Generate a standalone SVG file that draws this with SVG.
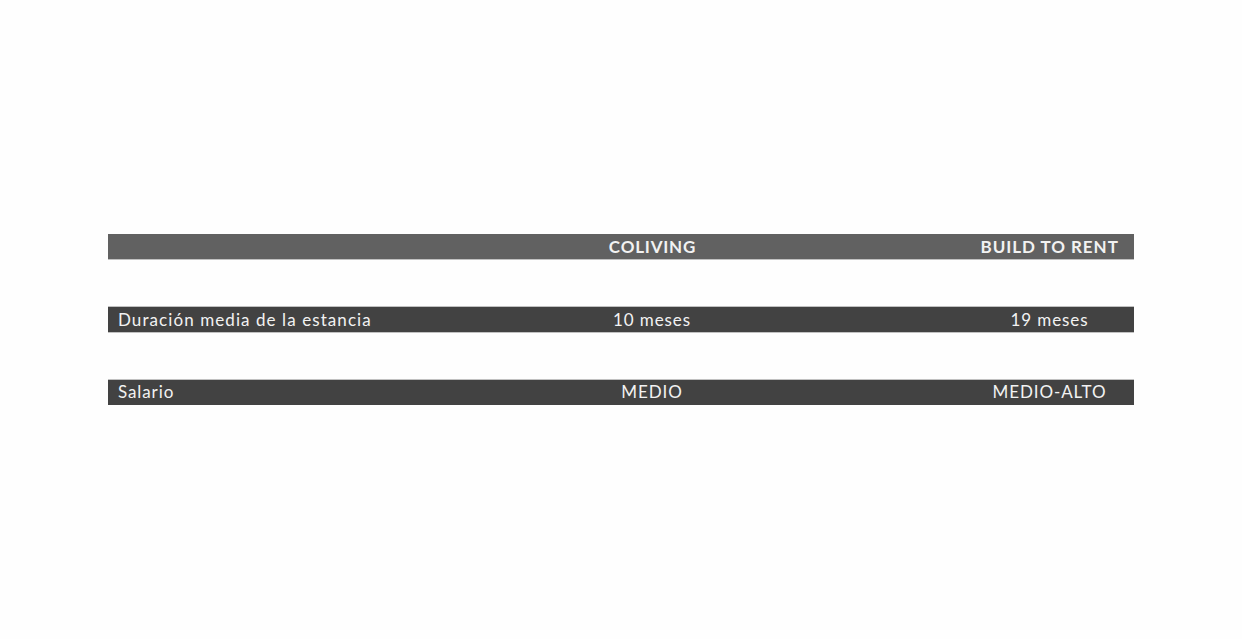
<svg xmlns="http://www.w3.org/2000/svg" width="1242" height="639" viewBox="0 0 1242 639">
<style>
.hdr{fill:#616161}
.row{fill:#424242}
.edge{stroke:#9a9a9a;stroke-width:1;opacity:0.6}
.t{font-family:Lato,"Liberation Sans",sans-serif;font-size:17px;fill:#f2f2f2;letter-spacing:0.9px}
.b{font-weight:bold;letter-spacing:0.8px}
.w{letter-spacing:1.08px}
.m{text-anchor:middle}
.e{text-anchor:end}
</style>
<rect width="1242" height="639" fill="#fefefe"/>
<g id="header">
<rect class="hdr" x="108" y="234" width="1026" height="25"/>
<line class="edge" x1="108" y1="259.5" x2="1134" y2="259.5"/>
<text class="t b m" x="652.5" y="253">COLIVING</text>
<text class="t b e" x="1118.8" y="253" style="letter-spacing:0.95px">BUILD TO RENT</text>
</g>
<g id="row-duracion">
<rect class="row" x="108" y="307" width="1026" height="25"/>
<line class="edge" x1="108" y1="306.5" x2="1134" y2="306.5"/>
<line class="edge" x1="108" y1="332.5" x2="1134" y2="332.5"/>
<text class="t w" x="118" y="326">Duración media de la estancia</text>
<text class="t m" x="652" y="326">10 meses</text>
<text class="t m" x="1049.5" y="326">19 meses</text>
</g>
<g id="row-salario">
<rect class="row" x="108" y="380" width="1026" height="25"/>
<line class="edge" x1="108" y1="379.5" x2="1134" y2="379.5"/>
<text class="t" x="118" y="398">Salario</text>
<text class="t m" x="652" y="398">MEDIO</text>
<text class="t m" x="1049.5" y="398">MEDIO-ALTO</text>
</g>
<g id="connectors"/>
</svg>
